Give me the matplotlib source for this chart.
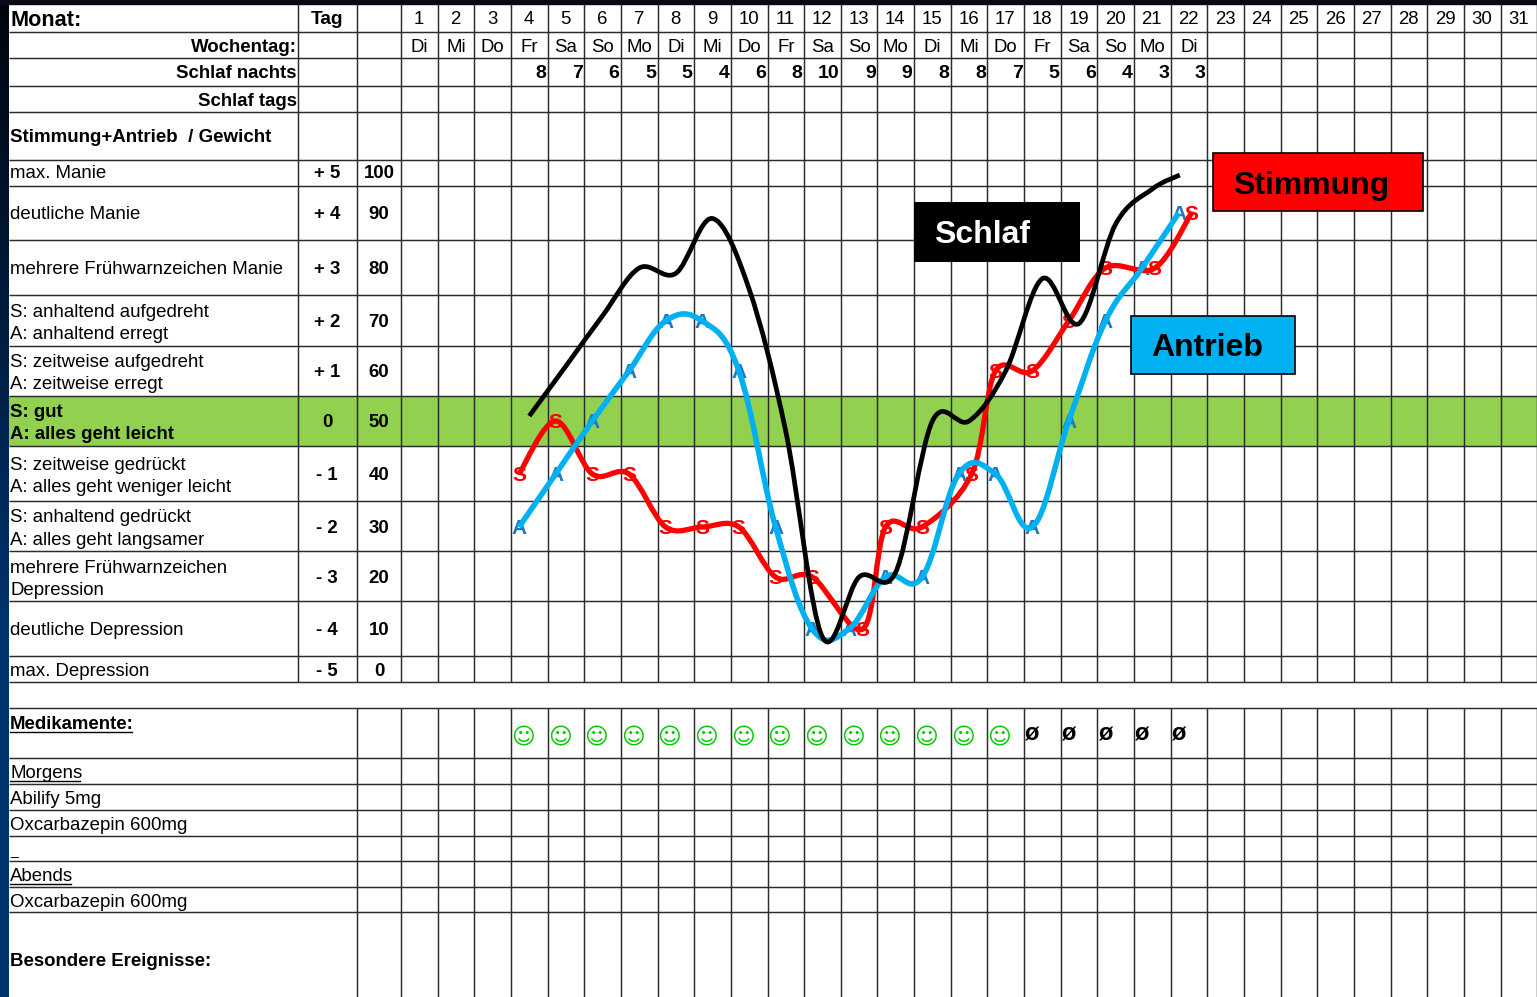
import numpy as np
import matplotlib
matplotlib.use("Agg")
import matplotlib.pyplot as plt
from matplotlib.patches import PathPatch, Rectangle
from matplotlib.path import Path

plt.rcParams["font.family"] = ["Liberation Sans", "DejaVu Sans"]

# ── Data ─────────────────────────────────────────────────────────────────────
month_days = list(range(1, 32))
weekdays = ["Di", "Mi", "Do", "Fr", "Sa", "So", "Mo", "Di", "Mi", "Do", "Fr",
            "Sa", "So", "Mo", "Di", "Mi", "Do", "Fr", "Sa", "So", "Mo", "Di"]
sleep_nights = [8, 7, 6, 5, 5, 4, 6, 8, 10, 9, 9, 8, 8, 7, 5, 6, 4, 3, 3]

scale_steps = ["+ 5", "+ 4", "+ 3", "+ 2", "+ 1", "0", "- 1", "- 2", "- 3", "- 4", "- 5"]
scale_values = [100, 90, 80, 70, 60, 50, 40, 30, 20, 10, 0]
row_labels = [
    ["max. Manie"],
    ["deutliche Manie"],
    ["mehrere Frühwarnzeichen Manie"],
    ["S: anhaltend aufgedreht", "A: anhaltend erregt"],
    ["S: zeitweise aufgedreht", "A: zeitweise erregt"],
    ["S: gut", "A: alles geht leicht"],
    ["S: zeitweise gedrückt", "A: alles geht weniger leicht"],
    ["S: anhaltend gedrückt", "A: alles geht langsamer"],
    ["mehrere Frühwarnzeichen", "Depression"],
    ["deutliche Depression"],
    ["max. Depression"],
]

days = list(range(4, 23))
stimmung = [40, 50, 40, 40, 30, 30, 30, 20, 20, 10, 30, 30, 40, 60, 60, 70, 80, 80, 90]
antrieb = [30, 40, 50, 60, 70, 70, 60, 30, 10, 10, 20, 20, 40, 40, 30, 50, 70, 80, 90]
# S sits beside the A on days where both have the same value
stimmung_shift = [0, 0, 0, 0, 0, 0, 0, 0, 0, 0.38, 0, 0, 0.35, 0, 0, 0, 0, 0.35, 0.35]
# sleep curve as drawn on the 0-100 scale
schlaf = [51, 61, 71, 80, 79, 89, 76, 48, 8, 20, 21, 50, 50, 60, 78, 69.5, 88, 96, 99.5]
schlaf_shift = [0] * 18 + [-0.25]

smiley_days = list(range(4, 18))
none_days = list(range(18, 23))

# ── Layout (pixels of the sheet) ─────────────────────────────────────────────
W, H = 1537, 997
X0, DAY_W = 401, 36.65
LEFT = 9
TEXT_DY = 2
row_lines = [32, 58, 86, 112, 160, 186, 240, 295, 346, 396, 446, 501, 551, 601, 656, 682]
lower_lines = [708, 758, 784, 810, 836, 861, 887, 912]
level_y = [173, 213, 268, 321, 371, 421, 474, 527, 577, 629, 670]
label_y = [[172], [212], [267], [310, 332], [360, 382], [410, 432],
           [463, 485], [515, 538], [566, 588], [628], [669]]
LINE = "#2b2b2b"


def day_x(d):
    return X0 + DAY_W * (np.asarray(d, dtype=float) - 1)


def value_y(v):
    return np.interp(v, scale_values[::-1], level_y[::-1])


def smooth_path(x, y, tension=1 / 6):
    # Excel style smoothed line: Catmull-Rom segments as Bezier curves
    pts = np.column_stack([x, y])
    padded = np.vstack([pts[0], pts, pts[-1]])
    verts = [pts[0]]
    codes = [Path.MOVETO]
    for i in range(1, len(padded) - 2):
        verts.append(padded[i] + (padded[i + 1] - padded[i - 1]) * tension)
        verts.append(padded[i + 1] - (padded[i + 2] - padded[i]) * tension)
        verts.append(padded[i + 1])
        codes += [Path.CURVE4] * 3
    return Path(verts, codes)


def txt(x, y, s, size=13.4, bold=False, ha="left", color="black", **kw):
    return ax.text(x, y + TEXT_DY, s, fontsize=size, fontweight="bold" if bold else "normal",
                   ha=ha, va="center", color=color, **kw)


def underlined(x, y, s, **kw):
    t = txt(x, y, s, **kw)
    box = t.get_window_extent(fig.canvas.get_renderer())
    ax.plot([box.x0, box.x1 - 2], [y + 10, y + 10], color="black", lw=1.0, zorder=3)


fig = plt.figure(figsize=(W / 100, H / 100), dpi=100)
ax = fig.add_axes([0, 0, 1, 1])
ax.set_xlim(0, W)
ax.set_ylim(H, 0)
ax.axis("off")

# ── Background strips ────────────────────────────────────────────────────────
grad = np.clip(np.linspace(0, 1.6, 256), 0, 1)[:, None]
strip = np.dstack([0.0 * grad, 0.02 + 0.18 * grad, 0.05 + 0.38 * grad])
ax.imshow(strip, extent=[0, LEFT, H, 0], aspect="auto", zorder=0)
ax.add_patch(Rectangle((0, 0), W, 4, color="#050a14", zorder=0))
ax.set_xlim(0, W)
ax.set_ylim(H, 0)

ax.add_patch(Rectangle((LEFT, 396), W - LEFT, 50, color="#92D050", lw=0, zorder=1))

# ── Grid ─────────────────────────────────────────────────────────────────────
grid_kw = dict(color=LINE, lw=1.05, zorder=2, solid_capstyle="butt")
day_edges = day_x(np.arange(1, 33))
for x in [298, 357] + list(day_edges):
    ax.plot([x, x], [4, 682], **grid_kw)
for x in [357] + list(day_edges):
    ax.plot([x, x], [708, H], **grid_kw)
for y in row_lines + lower_lines:
    ax.plot([LEFT, W], [y, y], **grid_kw)

# ── Header ───────────────────────────────────────────────────────────────────
txt(10, 19, "Monat:", size=15.6, bold=True)
txt(327, 18, "Tag", size=13.8, bold=True, ha="center")
txt(297, 45, "Wochentag:", bold=True, ha="right")
txt(297, 72, "Schlaf nachts", bold=True, ha="right")
txt(297, 100, "Schlaf tags", bold=True, ha="right")
txt(10, 136, "Stimmung+Antrieb  / Gewicht", size=13.5, bold=True)

for d in month_days:
    txt(day_x(d + 0.5) - 0.5, 18, str(d), ha="center")
for i, w in enumerate(weekdays):
    txt(day_x(i + 1.5), 45, w, ha="center")
for d, s in zip(days, sleep_nights):
    txt(day_x(d + 1) - 1.5, 72, str(s), size=14, bold=True, ha="right")

# ── Scale rows ───────────────────────────────────────────────────────────────
for i, lines in enumerate(row_labels):
    for line, y in zip(lines, label_y[i]):
        txt(10, y, line, bold=scale_values[i] == 50)
    txt(327, level_y[i] - 1, scale_steps[i], bold=True, ha="center")
    txt(379, level_y[i] - 1, str(scale_values[i]), bold=True, ha="center")

# ── Curves ───────────────────────────────────────────────────────────────────
s_x = day_x(np.array(days) + 0.22 + np.array(stimmung_shift))
a_x = day_x(np.array(days) + 0.22)
k_x = day_x(np.array(days) + 0.5 + np.array(schlaf_shift))

for x, v in zip(a_x, antrieb):
    txt(x, value_y(v) - TEXT_DY + 1, "A", size=15, bold=True, ha="center", color="#1c78c8", zorder=3)
for x, v in zip(s_x, stimmung):
    txt(x, value_y(v) - TEXT_DY + 1, "S", size=15, bold=True, ha="center", color="#ff0000", zorder=3)

curve_kw = dict(fill=False, capstyle="butt", joinstyle="round")
ax.add_patch(PathPatch(smooth_path(s_x, value_y(stimmung)), ec="#ff0000", lw=3.8, zorder=4, **curve_kw))
ax.add_patch(PathPatch(smooth_path(a_x, value_y(antrieb), 0.19), ec="#00B0F0", lw=4.0, zorder=5, **curve_kw))
ax.add_patch(PathPatch(smooth_path(k_x, value_y(schlaf)), ec="black", lw=3.4, zorder=6, **curve_kw))

# ── Legend boxes ─────────────────────────────────────────────────────────────
ax.add_patch(Rectangle((914, 202), 166, 60, fc="black", ec="none", zorder=7))
txt(934, 233, "Schlaf", size=23, bold=True, color="white", zorder=8)
ax.add_patch(Rectangle((1213, 153), 210, 58, fc="#ff0000", ec="black", lw=1.2, zorder=7))
txt(1233, 184, "Stimmung", size=23, bold=True, zorder=8)
ax.add_patch(Rectangle((1131, 316), 164, 58, fc="#00B0F0", ec="black", lw=1.2, zorder=7))
txt(1151, 346, "Antrieb", size=23, bold=True, zorder=8)

# ── Lower table ──────────────────────────────────────────────────────────────
underlined(10, 722, "Medikamente:", bold=True)
underlined(10, 771, "Morgens")
txt(10, 797, "Abilify 5mg")
txt(10, 823, "Oxcarbazepin 600mg")
txt(10, 849, "_", size=10)
underlined(10, 874, "Abends")
txt(10, 900, "Oxcarbazepin 600mg")
txt(10, 959, "Besondere Ereignisse:", bold=True)

for d in smiley_days:
    txt(day_x(d) + 12, 736, "\u263a", size=16.5, bold=True, ha="center", color="#00cc00", family="DejaVu Sans")
for d in none_days:
    txt(day_x(d) + 7.5, 731.5, "ø", size=17, bold=True, ha="center")

fig.savefig("out.png", dpi=100)
